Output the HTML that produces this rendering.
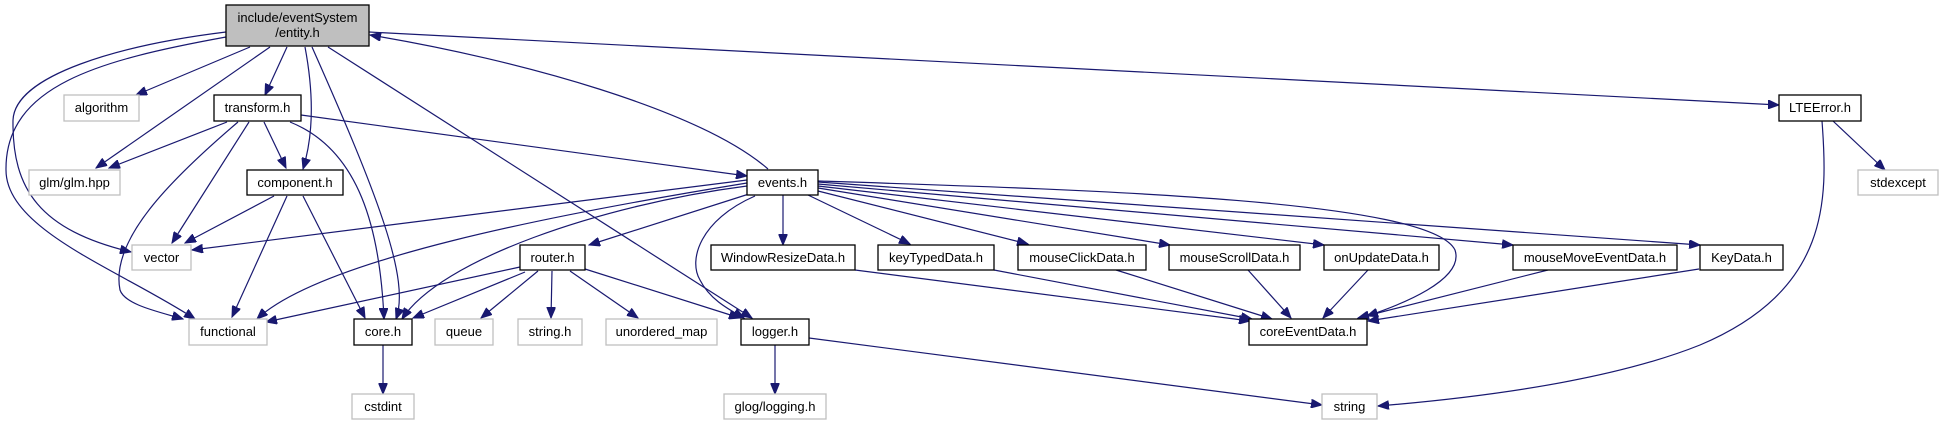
<!DOCTYPE html>
<html><head><meta charset="utf-8"><style>
html,body{margin:0;padding:0;background:#fff;width:1942px;height:425px;overflow:hidden}
svg{display:block}
text{font-family:"Liberation Sans",Arial,sans-serif;font-size:13px;fill:#000;text-anchor:middle}
.n{fill:#fff;stroke:#000;stroke-width:1.3}
.g{fill:#fff;stroke:#bfbfbf;stroke-width:1.3}
path.e{fill:none;stroke:#191970;stroke-width:1.2}
</style></head><body>
<svg width="1942" height="425" viewBox="0 0 1942 425" xmlns="http://www.w3.org/2000/svg">
<defs><marker id="a" markerUnits="userSpaceOnUse" markerWidth="12" markerHeight="9" refX="11" refY="4.5" orient="auto"><path d="M0,0 L11,4.5 L0,9 z" fill="#191970" stroke="#191970"/></marker></defs>
<g marker-end="url(#a)">
<path class="e" d="M250,47 L136,95"/>
<path class="e" d="M270,47 L96,168"/>
<path class="e" d="M227,122 L109,168"/>
<path class="e" d="M287,47 L265,95"/>
<path class="e" d="M305,47 C315,100 312,140 303,169"/>
<path class="e" d="M312,47 C380,200 410,280 396,319"/>
<path class="e" d="M328,47 L752,318"/>
<path class="e" d="M226,32 C120,45 15,75 13,120 C12,190 40,230 131,252"/>
<path class="e" d="M226,37 C100,60 5,85 6,170 C6,230 120,270 195,319"/>
<path class="e" d="M238,122 C170,180 110,240 120,290 C125,305 160,312 183,319"/>
<path class="e" d="M369,32 L1779,105"/>
<path class="e" d="M768,169 C700,110 520,60 370,35"/>
<path class="e" d="M301,115 L747,176"/>
<path class="e" d="M249,122 L172,243"/>
<path class="e" d="M264,122 L286,168"/>
<path class="e" d="M290,122 C360,150 380,230 384,319"/>
<path class="e" d="M274,196 L185,243"/>
<path class="e" d="M287,196 L232,317"/>
<path class="e" d="M303,196 L365,318"/>
<path class="e" d="M383,345 L383,394"/>
<path class="e" d="M747,180 L192,250"/>
<path class="e" d="M747,183 C550,215 320,260 257,319"/>
<path class="e" d="M747,186 C600,205 440,260 402,319"/>
<path class="e" d="M749,194 L589,245"/>
<path class="e" d="M755,196 C700,220 688,260 700,280 C710,300 730,310 744,318"/>
<path class="e" d="M783,195 L783,245"/>
<path class="e" d="M808,195 L910,244"/>
<path class="e" d="M818,191 L1028,244"/>
<path class="e" d="M818,188 L1170,245"/>
<path class="e" d="M818,186 L1324,245"/>
<path class="e" d="M818,184 L1513,245"/>
<path class="e" d="M818,182 L1700,245"/>
<path class="e" d="M818,181 C1100,190 1430,200 1455,250 C1465,280 1400,305 1367,316"/>
<path class="e" d="M855,270 L1250,321"/>
<path class="e" d="M994,270 L1252,319"/>
<path class="e" d="M1116,270 L1272,319"/>
<path class="e" d="M1248,270 L1291,318"/>
<path class="e" d="M1368,270 L1323,318"/>
<path class="e" d="M1548,270 L1358,318"/>
<path class="e" d="M1699,269 L1368,321"/>
<path class="e" d="M1833,121 L1885,170"/>
<path class="e" d="M1822,121 C1828,200 1830,290 1700,345 C1600,385 1450,400 1378,406"/>
<path class="e" d="M775,345 L775,394"/>
<path class="e" d="M809,338 L1322,405"/>
<path class="e" d="M520,267 L266,322"/>
<path class="e" d="M525,272 L413,318"/>
<path class="e" d="M538,271 L481,318"/>
<path class="e" d="M552,271 L551,318"/>
<path class="e" d="M570,271 L638,318"/>
<path class="e" d="M585,269 L740,318"/>
</g>
<rect x="226" y="5" width="143" height="41" fill="#bfbfbf" stroke="#000" stroke-width="1.3"/>
<text x="297.5" y="22">include/eventSystem</text><text x="297.5" y="37">/entity.h</text>
<rect class="g" x="64" y="95" width="75" height="26"/><text x="101.5" y="112">algorithm</text>
<rect class="n" x="214" y="95" width="87" height="26"/><text x="257.5" y="112">transform.h</text>
<rect class="g" x="29" y="170" width="91" height="25"/><text x="74.5" y="187">glm/glm.hpp</text>
<rect class="n" x="247" y="170" width="96" height="25"/><text x="295" y="187">component.h</text>
<rect class="g" x="132" y="245" width="59" height="25"/><text x="161.5" y="262">vector</text>
<rect class="g" x="189" y="319" width="78" height="26"/><text x="228" y="336">functional</text>
<rect class="n" x="354" y="319" width="58" height="26"/><text x="383" y="336">core.h</text>
<rect class="g" x="435" y="319" width="58" height="26"/><text x="464" y="336">queue</text>
<rect class="g" x="518" y="319" width="64" height="26"/><text x="550" y="336">string.h</text>
<rect class="g" x="606" y="319" width="111" height="26"/><text x="661.5" y="336">unordered_map</text>
<rect class="n" x="520" y="245" width="65" height="25"/><text x="552.5" y="262">router.h</text>
<rect class="g" x="352" y="394" width="62" height="25"/><text x="383" y="411">cstdint</text>
<rect class="n" x="747" y="170" width="71" height="25"/><text x="782.5" y="187">events.h</text>
<rect class="n" x="711" y="245" width="144" height="25"/><text x="783" y="262">WindowResizeData.h</text>
<rect class="n" x="878" y="245" width="116" height="25"/><text x="936" y="262">keyTypedData.h</text>
<rect class="n" x="1018" y="245" width="128" height="25"/><text x="1082" y="262">mouseClickData.h</text>
<rect class="n" x="1169" y="245" width="131" height="25"/><text x="1234.5" y="262">mouseScrollData.h</text>
<rect class="n" x="1324" y="245" width="115" height="25"/><text x="1381.5" y="262">onUpdateData.h</text>
<rect class="n" x="1513" y="245" width="164" height="25"/><text x="1595" y="262">mouseMoveEventData.h</text>
<rect class="n" x="1700" y="245" width="83" height="25"/><text x="1741.5" y="262">KeyData.h</text>
<rect class="n" x="1249" y="319" width="118" height="26"/><text x="1308" y="336">coreEventData.h</text>
<rect class="n" x="741" y="319" width="68" height="26"/><text x="775" y="336">logger.h</text>
<rect class="g" x="724" y="394" width="102" height="25"/><text x="775" y="411">glog/logging.h</text>
<rect class="n" x="1779" y="95" width="82" height="26"/><text x="1820" y="112">LTEError.h</text>
<rect class="g" x="1858" y="170" width="80" height="25"/><text x="1898" y="187">stdexcept</text>
<rect class="g" x="1322" y="394" width="55" height="25"/><text x="1349.5" y="411">string</text>
</svg>
</body></html>
